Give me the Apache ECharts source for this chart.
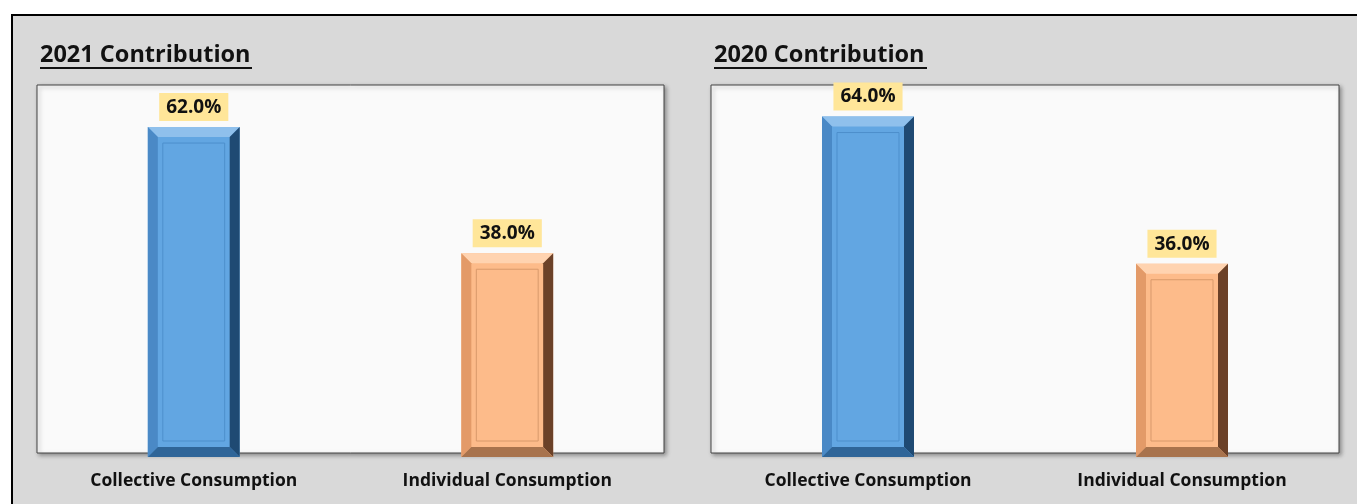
<!DOCTYPE html>
<html><head><meta charset="utf-8">
<script src="https://cdn.jsdelivr.net/npm/echarts@6/dist/echarts.min.js"></script>
<style>html,body{margin:0;padding:0;background:#fff}#c{width:1357px;height:504px}</style>
</head><body><div id="c"></div>
<script>
const categories = ['Collective Consumption', 'Individual Consumption'];
const values2021 = [62.0, 38.0];
const values2020 = [64.0, 36.0];
const titles = ['2021 Contribution', '2020 Contribution'];

const palette = [
  {main:'#62a6e2', light:'#8fc0ec', mid:'#4a89c6', dark:'#1f4a73', bottom:'#2f6598', inner:'#4d8fcc'},
  {main:'#fdbb8a', light:'#ffd3b0', mid:'#e39a68', dark:'#6b4128', bottom:'#a8734d', inner:'#d8996b'}
];

function bevelBar(params, api) {
  const cat = api.value(0), val = api.value(1);
  const top = api.coord([cat, val]);
  const base = api.coord([cat, 0]);
  const bw = api.size([1, 0])[0] * 0.293;
  const x0 = top[0] - bw / 2, x1 = x0 + bw, y0 = top[1], y1 = base[1] + 4;
  const b = 10;
  const c = palette[params.dataIndex];
  return {
    type: 'group',
    children: [
      {type:'rect', shape:{x:x0, y:y0, width:bw, height:y1-y0}, style:{fill:c.main}},
      {type:'polygon', shape:{points:[[x0,y0],[x1,y0],[x1-b,y0+b],[x0+b,y0+b]]}, style:{fill:c.light}},
      {type:'polygon', shape:{points:[[x0,y0],[x0+b,y0+b],[x0+b,y1-b],[x0,y1]]}, style:{fill:c.mid}},
      {type:'polygon', shape:{points:[[x1,y0],[x1,y1],[x1-b,y1-b],[x1-b,y0+b]]}, style:{fill:c.dark}},
      {type:'polygon', shape:{points:[[x0,y1],[x0+b,y1-b],[x1-b,y1-b],[x1,y1]]}, style:{fill:c.bottom}},
      {type:'rect', shape:{x:x0+b+5, y:y0+b+6, width:bw-2*b-10, height:y1-y0-2*b-12}, style:{fill:'none', stroke:c.inner, lineWidth:1}},
      {type:'text', x: top[0], y: y0 - 6,
        style:{text: val.toFixed(1) + '%', align:'center', verticalAlign:'bottom',
          font:'bold 19px "Open Sans", sans-serif', fill:'#111',
          backgroundColor:'#ffe699', padding:[5,7,4,7]}}
    ]
  };
}

const chart = echarts.init(document.getElementById('c'));
const grids = [
  {left:37, top:85, width:627, height:368},
  {left:711, top:85, width:628, height:368}
];
const datas = [values2021, values2020];

chart.setOption({
  backgroundColor:'#ffffff',
  animation:false,
  graphic:[
    {type:'rect', z:-10, shape:{x:12, y:15, width:1360, height:500}, style:{fill:'#d9d9d9', stroke:'#000', lineWidth:2}},
    {type:'text', left:40, top:43, style:{text:titles[0], font:'bold 23.5px "Open Sans", sans-serif', fill:'#111'}},
    {type:'rect', left:40, top:67, shape:{width:212, height:2}, style:{fill:'#111'}},
    {type:'text', left:714, top:43, style:{text:titles[1], font:'bold 23.5px "Open Sans", sans-serif', fill:'#111'}},
    {type:'rect', left:714, top:67, shape:{width:213, height:2}, style:{fill:'#111'}}
  ],
  grid: grids.map(g => Object.assign({show:true, backgroundColor:'#fafafa', borderColor:'#444', borderWidth:1,
    shadowColor:'rgba(0,0,0,0.35)', shadowBlur:4, shadowOffsetX:2, shadowOffsetY:2}, g)),
  xAxis: grids.map((g, i) => ({
    type:'category', gridIndex:i, data:categories,
    axisLine:{show:false}, axisTick:{show:false},
    axisLabel:{margin:19, fontFamily:'"Open Sans", sans-serif', fontWeight:'bold', fontSize:17.5, color:'#111'}
  })),
  yAxis: grids.map((g, i) => ({
    type:'value', gridIndex:i, min:0, max:70, show:false, splitLine:{show:false}
  })),
  series: datas.map((d, i) => ({
    type:'custom', xAxisIndex:i, yAxisIndex:i, renderItem:bevelBar,
    clip:false,
    data: d.map((v, j) => [j, v])
  }))
});
</script></body></html>
